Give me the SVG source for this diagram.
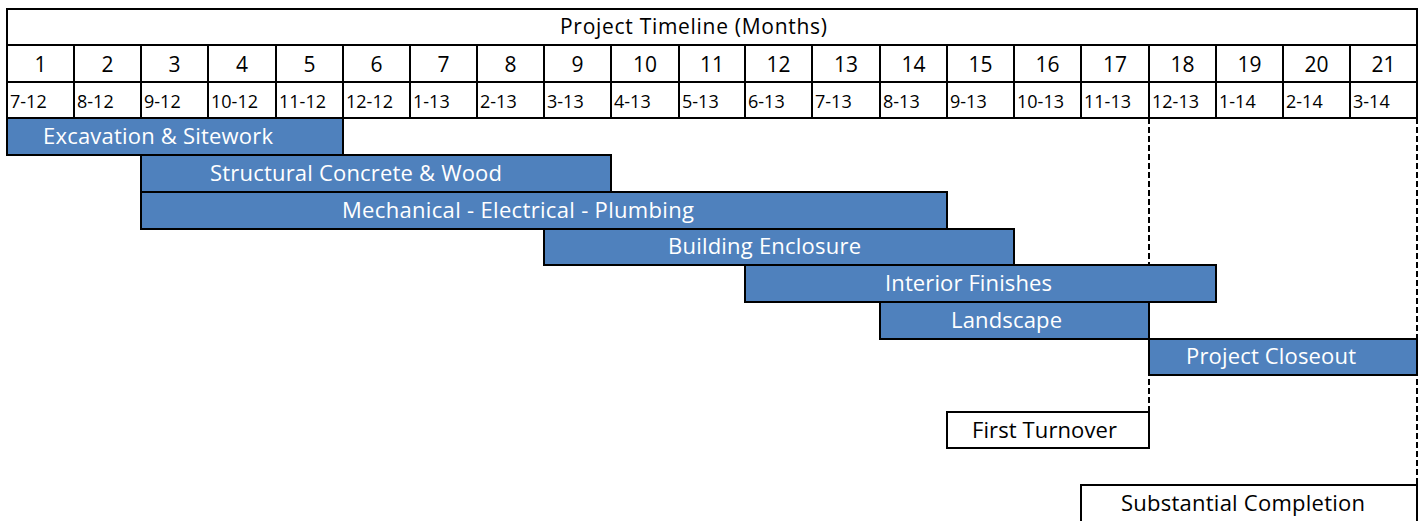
<svg xmlns="http://www.w3.org/2000/svg" width="1424" height="521" viewBox="0 0 1424 521">
<style>
.cell{fill:#fff;stroke:#000;stroke-width:2}
.bar{fill:#4f81bd;stroke:#000;stroke-width:2}
.t{font-family:"Open Sans","Noto Sans",sans-serif;fill:#000}
.h{font-size:21px;text-anchor:middle}
.m{font-size:21px;text-anchor:middle}
.d{font-size:18px}
.b{font-family:"Open Sans","Noto Sans",sans-serif;font-size:22px;fill:#fff;text-anchor:middle}
.n{font-size:22px;text-anchor:middle}
.dash{stroke:#000;stroke-width:2;stroke-dasharray:6,3;fill:none}
</style>
<rect width="1424" height="521" fill="#fff"/>
<g id="connectors">
<line class="dash" x1="1149" y1="118" x2="1149" y2="412"/>
<line class="dash" x1="1417" y1="118" x2="1417" y2="485"/>
</g>
<g id="title"><rect class="cell" x="7" y="9" width="1410" height="36"/><text class="t h" x="693.5" y="34" textLength="267">Project Timeline (Months)</text></g>
<g id="months">
<rect class="cell" x="7" y="45" width="67" height="37"/><text class="t m" x="40.5" y="72">1</text>
<rect class="cell" x="74" y="45" width="67" height="37"/><text class="t m" x="107.5" y="72">2</text>
<rect class="cell" x="141" y="45" width="67" height="37"/><text class="t m" x="174.5" y="72">3</text>
<rect class="cell" x="208" y="45" width="68" height="37"/><text class="t m" x="242" y="72">4</text>
<rect class="cell" x="276" y="45" width="67" height="37"/><text class="t m" x="309.5" y="72">5</text>
<rect class="cell" x="343" y="45" width="67" height="37"/><text class="t m" x="376.5" y="72">6</text>
<rect class="cell" x="410" y="45" width="67" height="37"/><text class="t m" x="443.5" y="72">7</text>
<rect class="cell" x="477" y="45" width="67" height="37"/><text class="t m" x="510.5" y="72">8</text>
<rect class="cell" x="544" y="45" width="67" height="37"/><text class="t m" x="577.5" y="72">9</text>
<rect class="cell" x="611" y="45" width="68" height="37"/><text class="t m" x="645" y="72">10</text>
<rect class="cell" x="679" y="45" width="66" height="37"/><text class="t m" x="712" y="72">11</text>
<rect class="cell" x="745" y="45" width="67" height="37"/><text class="t m" x="778.5" y="72">12</text>
<rect class="cell" x="812" y="45" width="68" height="37"/><text class="t m" x="846" y="72">13</text>
<rect class="cell" x="880" y="45" width="67" height="37"/><text class="t m" x="913.5" y="72">14</text>
<rect class="cell" x="947" y="45" width="67" height="37"/><text class="t m" x="980.5" y="72">15</text>
<rect class="cell" x="1014" y="45" width="67" height="37"/><text class="t m" x="1047.5" y="72">16</text>
<rect class="cell" x="1081" y="45" width="68" height="37"/><text class="t m" x="1115" y="72">17</text>
<rect class="cell" x="1149" y="45" width="67" height="37"/><text class="t m" x="1182.5" y="72">18</text>
<rect class="cell" x="1216" y="45" width="67" height="37"/><text class="t m" x="1249.5" y="72">19</text>
<rect class="cell" x="1283" y="45" width="67" height="37"/><text class="t m" x="1316.5" y="72">20</text>
<rect class="cell" x="1350" y="45" width="67" height="37"/><text class="t m" x="1383.5" y="72">21</text>
</g>
<g id="dates">
<rect class="cell" x="7" y="82" width="67" height="36"/><text class="t d" x="10" y="108">7-12</text>
<rect class="cell" x="74" y="82" width="67" height="36"/><text class="t d" x="77" y="108">8-12</text>
<rect class="cell" x="141" y="82" width="67" height="36"/><text class="t d" x="144" y="108">9-12</text>
<rect class="cell" x="208" y="82" width="68" height="36"/><text class="t d" x="211" y="108">10-12</text>
<rect class="cell" x="276" y="82" width="67" height="36"/><text class="t d" x="279" y="108">11-12</text>
<rect class="cell" x="343" y="82" width="67" height="36"/><text class="t d" x="346" y="108">12-12</text>
<rect class="cell" x="410" y="82" width="67" height="36"/><text class="t d" x="413" y="108">1-13</text>
<rect class="cell" x="477" y="82" width="67" height="36"/><text class="t d" x="480" y="108">2-13</text>
<rect class="cell" x="544" y="82" width="67" height="36"/><text class="t d" x="547" y="108">3-13</text>
<rect class="cell" x="611" y="82" width="68" height="36"/><text class="t d" x="614" y="108">4-13</text>
<rect class="cell" x="679" y="82" width="66" height="36"/><text class="t d" x="682" y="108">5-13</text>
<rect class="cell" x="745" y="82" width="67" height="36"/><text class="t d" x="748" y="108">6-13</text>
<rect class="cell" x="812" y="82" width="68" height="36"/><text class="t d" x="815" y="108">7-13</text>
<rect class="cell" x="880" y="82" width="67" height="36"/><text class="t d" x="883" y="108">8-13</text>
<rect class="cell" x="947" y="82" width="67" height="36"/><text class="t d" x="950" y="108">9-13</text>
<rect class="cell" x="1014" y="82" width="67" height="36"/><text class="t d" x="1017" y="108">10-13</text>
<rect class="cell" x="1081" y="82" width="68" height="36"/><text class="t d" x="1084" y="108">11-13</text>
<rect class="cell" x="1149" y="82" width="67" height="36"/><text class="t d" x="1152" y="108">12-13</text>
<rect class="cell" x="1216" y="82" width="67" height="36"/><text class="t d" x="1219" y="108">1-14</text>
<rect class="cell" x="1283" y="82" width="67" height="36"/><text class="t d" x="1286" y="108">2-14</text>
<rect class="cell" x="1350" y="82" width="67" height="36"/><text class="t d" x="1353" y="108">3-14</text>
</g>
<g id="excavation"><rect class="bar" x="7" y="118" width="336" height="37"/><text class="b" x="158" y="144" textLength="230">Excavation &amp; Sitework</text></g>
<g id="structural"><rect class="bar" x="141" y="155" width="470" height="37"/><text class="b" x="356" y="181" textLength="292">Structural Concrete &amp; Wood</text></g>
<g id="mep"><rect class="bar" x="141" y="192" width="806" height="37"/><text class="b" x="518" y="218" textLength="352">Mechanical - Electrical - Plumbing</text></g>
<g id="enclosure"><rect class="bar" x="544" y="229" width="470" height="36"/><text class="b" x="764.5" y="254" textLength="193">Building Enclosure</text></g>
<g id="interior"><rect class="bar" x="745" y="265" width="471" height="37"/><text class="b" x="968.5" y="291" textLength="167">Interior Finishes</text></g>
<g id="landscape"><rect class="bar" x="880" y="302" width="269" height="37"/><text class="b" x="1006.5" y="328" textLength="111">Landscape</text></g>
<g id="closeout"><rect class="bar" x="1149" y="339" width="268" height="36"/><text class="b" x="1271" y="364" textLength="170">Project Closeout</text></g>
<g id="first-turnover"><rect class="cell" x="947" y="412" width="202" height="36"/><text class="t n" x="1044.5" y="438" textLength="145">First Turnover</text></g>
<g id="substantial-completion"><rect class="cell" x="1081" y="485" width="336" height="40"/><text class="t n" x="1243" y="511" textLength="244">Substantial Completion</text></g>
</svg>
